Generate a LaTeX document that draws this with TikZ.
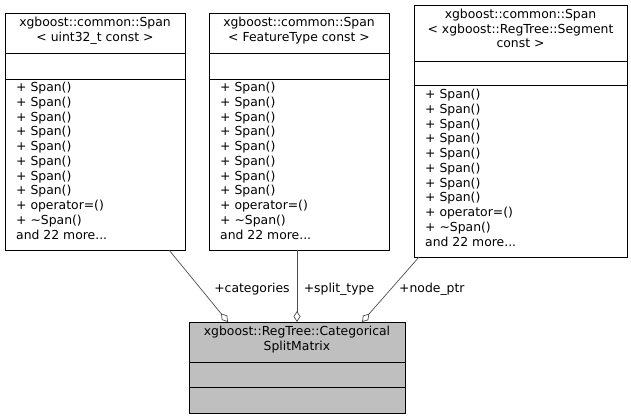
\documentclass[tikz,border=0pt]{standalone}
\usepackage{fontspec}
\setmainfont{DejaVu Sans}
\usetikzlibrary{arrows.meta}
\begin{document}
\begin{tikzpicture}[x=1pt,y=-1pt,
  box/.style={draw=black,line width=0.8pt},
  txt/.style={inner sep=0,font=\fontsize{12.4}{14.75}\selectfont,align=left,anchor=north west},
  ttl/.style={inner sep=0,font=\fontsize{12.4}{14.5}\selectfont,align=center,anchor=north},
  lbl/.style={inner sep=0,font=\fontsize{12.4}{14}\selectfont},
  agg/.style={draw=black!70,line width=0.7pt,-{Diamond[open,length=11pt,width=7pt,fill=white]}}]
\useasboundingbox (0,0) rectangle (631,419);
\def\meth{+ Span()\\+ Span()\\+ Span()\\+ Span()\\+ Span()\\+ Span()\\+ Span()\\+ Span()\\+ operator=()\\+ \char"223C Span()\\and 22 more...}
% box 1
\draw[box] (5,13) rectangle (185,250);
\coordinate (b1s) at (169,250);
\draw[box] (5,53) -- (185,53) (5,79) -- (185,79);
\node[ttl] (t1) at (95,17) {xgboost::common::Span\\< uint32\_t const >};
\node[txt] (m1) at (16,82) {\meth};
% box 2
\draw[box] (209,13) rectangle (389,250);
\coordinate (b2s) at (297,250);
\draw[box] (209,53) -- (389,53) (209,79) -- (389,79);
\node[ttl] (t2) at (299,17) {xgboost::common::Span\\< FeatureType const >};
\node[txt] (m2) at (220,82) {\meth};
% box 3
\draw[box] (414,5) rectangle (627,257);
\coordinate (b3s) at (419,257);
\draw[box] (414,61) -- (627,61) (414,85) -- (627,85);
\node[ttl] (t3) at (520.5,9) {xgboost::common::Span\\< xgboost::RegTree::Segment\\const >};
\node[txt] (m3) at (425,89) {\meth};
% bottom
\draw[box,fill=black!25] (189,322) rectangle (405,413);
\draw[box] (189,362) -- (405,362) (189,387) -- (405,387);
\node[ttl] (t4) at (297,326) {xgboost::RegTree::Categorical\\SplitMatrix};
\coordinate (e1) at (228,322);
\coordinate (e2) at (297,322);
\coordinate (e3) at (362,322);
\draw[agg] (b1s) -- (e1);
\draw[agg] (b2s) -- (e2);
\draw[agg] (b3s) -- (e3);
\node[lbl] (l1) at (252,289) {+categories};
\node[lbl] (l2) at (339,289) {+split\_type};
\node[lbl,anchor=west] (l3) at (399,289) {+node\_ptr};
\end{tikzpicture}
\end{document}
